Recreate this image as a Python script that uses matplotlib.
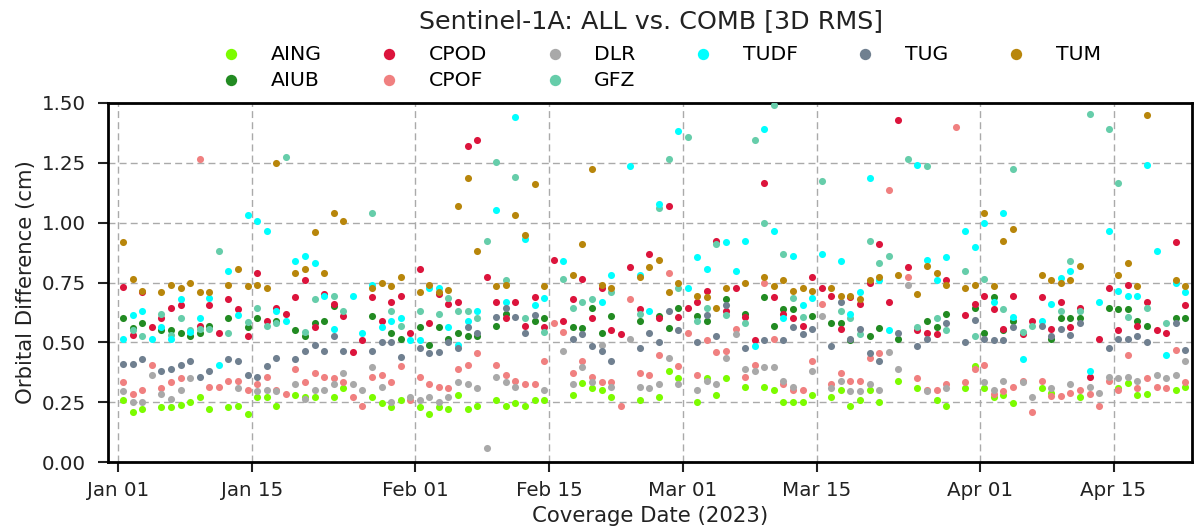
import numpy as np
import pandas as pd
import matplotlib
matplotlib.use('Agg')
import matplotlib.pyplot as plt
import matplotlib.dates as mdates

N = None

# daily values, 2023-01-01 .. 2023-04-22 (112 days), None = no solution
days = pd.date_range('2023-01-01', periods=112, freq='D') + pd.Timedelta(hours=12)

AING = [0.26, 0.21, 0.22, N, 0.23, 0.23, 0.24, 0.25, 0.27, 0.22, N, 0.23, 0.235, 0.20,
        0.27, 0.27, 0.235, N, 0.28, 0.27, 0.27, N, 0.27, 0.31, N, N, 0.27, 0.245,
        0.23, 0.26, N, 0.23, 0.20, 0.23, 0.22, 0.28, 0.22, 0.235, N, 0.26, 0.235, 0.245,
        0.235, 0.26, 0.26, N, N, 0.28, 0.33, 0.31, 0.30, 0.27, N, N, 0.26, N,
        0.27, 0.38, 0.35, N, 0.25, 0.35, 0.28, 0.35, N, 0.315, N, 0.315, 0.30, 0.25,
        0.25, 0.25, 0.28, N, 0.27, 0.30, 0.235, 0.26, 0.30, 0.25, N, 0.34, N, 0.31,
        N, 0.26, 0.235, N, 0.31, 0.40, 0.31, 0.27, 0.28, 0.245, N, N, 0.31, 0.29,
        N, N, 0.27, N, N, N, 0.31, 0.33, 0.28, 0.285, N, N, 0.30, 0.315]
AIUB = [0.60, 0.56, 0.58, N, 0.55, 0.55, 0.54, 0.525, 0.54, 0.57, N, 0.60, N, 0.565,
        0.60, N, 0.59, N, 0.55, 0.525, 0.58, 0.59, 0.65, N, N, N, 0.61, N,
        0.54, 0.515, N, 0.565, 0.49, 0.565, 0.515, 0.54, 0.525, 0.525, N, 0.57, 0.62, N,
        N, 0.59, 0.60, N, N, 0.565, 0.56, 0.645, 0.54, 0.61, N, N, 0.59, N,
        0.61, 0.56, 0.645, N, 0.61, 0.59, N, 0.68, N, 0.62, N, 0.69, 0.57, 0.64,
        0.64, N, 0.61, N, 0.58, 0.58, 0.51, N, 0.525, 0.56, N, 0.515, N, N,
        0.59, 0.565, 0.62, N, N, 0.645, 0.54, 0.69, 0.55, 0.59, N, N, N, 0.515,
        0.60, 0.60, 0.60, N, N, 0.645, 0.64, 0.64, 0.59, 0.57, N, N, 0.60, 0.60]
CPOD = [0.73, 0.53, 0.71, 0.565, 0.60, 0.645, 0.655, N, 0.57, 0.655, 0.54, 0.68, 0.64, 0.525,
        0.79, 0.59, 0.645, 0.62, 0.69, 0.76, 0.565, 0.70, 0.66, 0.61, 0.46, 0.51, 0.69, 0.59,
        0.67, 0.695, 0.54, 0.805, 0.58, 0.70, 0.66, 0.67, 1.32, 1.345, 0.775, 0.67, 0.60, 0.67,
        0.57, 0.69, 0.565, 0.845, 0.59, 0.68, 0.765, 0.60, 0.725, 0.55, 0.535, 0.815, 0.64, 0.87,
        0.60, 1.07, 0.605, 0.645, 0.67, 0.715, 0.925, 0.63, 0.725, 0.605, 0.51, 1.165, 0.69, 0.62,
        0.60, 0.57, 0.775, 0.725, 0.695, 0.555, 0.69, 0.66, 0.75, 0.91, 0.67, 1.43, 0.815, 0.55,
        0.54, 0.535, 0.76, N, 0.615, 0.66, 0.695, 0.64, 0.555, 0.695, 0.535, 0.59, 0.69, 0.555,
        0.67, 0.565, 0.645, 0.355, 0.515, 0.725, 0.55, 0.74, 0.57, 0.67, 0.55, 0.54, 0.92, 0.655]
CPOF = [0.335, 0.285, 0.30, 0.405, 0.31, 0.335, 0.35, N, 1.265, 0.315, 0.315, 0.34, 0.34, 0.30,
        0.325, 0.355, 0.30, 0.285, 0.39, 0.335, 0.37, 0.355, 0.35, 0.335, 0.27, 0.235, 0.355, 0.365,
        0.335, 0.40, 0.26, 0.355, 0.325, 0.315, 0.31, 0.39, 0.405, 0.455, N, 0.405, 0.365, 0.34,
        0.325, 0.325, 0.42, 0.58, 0.545, 0.37, 0.42, 0.355, 0.335, 0.335, 0.235, 0.68, 0.37, 0.365,
        0.445, 0.79, 0.40, 0.54, 0.365, 0.51, 0.46, 0.465, 0.555, 0.355, 0.405, 0.75, 0.515, 0.325,
        0.30, 0.30, 0.42, 0.66, 0.325, 0.37, 0.34, 0.34, 0.435, 0.455, 1.135, N, 0.775, 0.35,
        0.30, 0.30, 0.325, 1.40, 0.335, 0.39, 0.405, 0.285, 0.295, 0.315, 0.34, 0.21, 0.34, 0.275,
        0.275, 0.29, 0.30, 0.285, 0.235, 0.34, 0.30, 0.445, 0.31, 0.35, 0.315, 0.31, 0.47, 0.335]
DLR = [0.295, 0.25, 0.25, 0.365, 0.285, 0.265, 0.30, 0.35, N, N, N, N, 0.31, N,
       0.295, 0.30, 0.295, N, 0.325, 0.265, 0.30, 0.30, 0.325, 0.37, 0.325, 0.30, 0.395, 0.315,
       0.25, N, 0.27, 0.26, 0.27, 0.25, 0.27, 0.335, 0.325, 0.31, 0.06, 0.355, 0.335, 0.315,
       N, N, 0.30, N, 0.465, 0.325, 0.395, 0.335, 0.49, 0.315, N, 0.515, 0.315, 0.31,
       0.325, 0.435, 0.325, N, 0.30, 0.34, 0.325, 0.435, 0.535, 0.39, 0.38, 0.395, 0.395, 0.34,
       0.315, N, 0.38, 0.61, 0.31, 0.34, 0.295, 0.295, 0.325, 0.30, 0.46, 0.39, 0.74, N,
       0.295, N, 0.31, N, N, N, 0.335, 0.30, 0.34, N, 0.335, 0.27, N, 0.31,
       N, 0.325, N, 0.315, 0.29, 0.355, 0.35, 0.355, 0.34, N, 0.365, 0.35, 0.365, 0.42]
GFZ = [N, 0.55, 0.525, N, 0.62, 0.53, 0.60, 0.55, 0.555, 0.555, 0.88, 0.54, N, 0.585,
       0.645, 0.57, 0.58, 1.275, N, 0.545, 0.68, N, 0.695, 0.63, N, N, 1.04, N,
       0.63, 0.57, N, 0.63, N, 0.62, 0.685, 0.63, 0.63, 0.60, 0.925, 1.255, 0.76, 1.19,
       0.60, N, 0.545, N, 0.765, 0.645, 0.67, 0.68, N, 0.71, N, N, 0.62, N,
       1.063, 1.265, 0.725, 1.36, 0.59, 0.645, 0.91, 0.615, N, 0.58, 1.345, 1.00, 1.49, 0.87,
       0.685, 0.605, N, 1.175, N, 0.63, 0.60, 0.535, 0.925, 0.83, 0.86, N, 1.265, 0.565,
       1.235, 0.60, 0.55, N, 0.80, 0.525, 0.765, N, 0.64, 1.225, 0.545, 0.57, N, N,
       0.63, 0.84, 0.63, 1.455, N, 1.39, 1.165, 0.605, N, 0.645, N, 0.58, N, N]
TUDF = [0.515, 0.615, 0.63, 0.515, 0.565, 0.515, 0.68, 0.545, 0.60, 0.685, 0.405, 0.80, 0.615, 1.03,
        1.005, 0.965, 0.63, 0.59, 0.84, 0.86, 0.83, 0.695, 0.555, N, 0.695, 0.54, 0.74, 0.565,
        0.59, 0.60, 0.51, 0.51, 0.725, 0.725, 0.565, 0.49, 0.59, 0.63, N, 1.055, 0.67, 1.44,
        0.93, 0.655, 0.685, N, 0.84, N, N, N, 0.67, 0.78, N, 1.235, 0.78, 0.63,
        1.08, N, 1.385, 0.725, 0.855, 0.805, N, 0.92, 0.80, 0.925, 0.485, 1.39, 0.965, 0.60,
        0.86, 0.655, 0.685, 0.87, N, 0.84, 0.62, 0.71, 1.185, 0.76, 0.55, N, N, 1.24,
        0.845, 0.76, 0.855, N, 0.965, 0.90, 1.00, 0.67, 1.04, 0.605, 0.43, N, 0.59, 0.66,
        0.77, 0.80, N, 0.38, 0.67, 0.965, 0.715, 0.695, 0.695, 1.24, 0.88, 0.445, 0.75, 0.71]
TUG = [0.41, 0.41, 0.43, N, 0.38, 0.39, 0.405, 0.42, 0.355, 0.38, N, 0.43, 0.42, 0.365,
       0.355, 0.40, 0.435, N, 0.43, 0.465, 0.49, 0.465, 0.525, 0.465, N, N, 0.465, 0.50,
       0.50, 0.44, N, 0.475, 0.455, 0.46, 0.50, 0.475, 0.565, 0.54, N, 0.605, 0.645, 0.605,
       0.54, 0.615, N, N, N, 0.515, 0.535, 0.485, 0.465, 0.42, N, N, 0.475, 0.54,
       0.50, 0.63, 0.55, N, 0.50, 0.615, 0.525, 0.655, N, 0.475, N, 0.51, N, 0.51,
       0.565, 0.535, 0.555, N, 0.485, 0.67, 0.515, 0.555, 0.455, 0.42, N, 0.54, N, 0.485,
       0.515, N, 0.58, N, 0.50, 0.595, 0.515, 0.51, 0.51, 0.565, N, N, 0.57, 0.525,
       0.555, 0.53, 0.58, N, N, 0.475, 0.515, 0.515, 0.525, 0.50, N, N, 0.58, 0.47]
TUM = [0.92, 0.765, 0.715, N, 0.71, 0.74, 0.725, 0.75, 0.71, 0.71, N, 0.74, 0.805, 0.735,
       0.74, 0.725, 1.25, N, 0.79, 0.805, 0.96, 0.79, 1.04, 1.005, N, N, 0.725, 0.75,
       0.735, 0.775, N, 0.71, 0.74, 0.71, 0.72, 1.07, 1.185, 0.88, N, 0.735, 0.74, 1.03,
       0.95, 1.16, 0.735, N, N, 0.78, 0.91, 1.225, 0.74, 0.725, N, N, 0.775, 0.815,
       0.845, 0.71, 0.75, N, 0.695, 0.69, 0.645, 0.725, N, 0.75, N, 0.775, 0.735, 0.76,
       0.715, 0.725, 0.715, N, 0.725, 0.695, 0.695, 0.68, 0.76, 0.775, N, 0.78, N, 0.70,
       0.82, 0.79, 0.74, N, 0.725, 0.74, 1.04, 0.735, 0.925, 0.975, N, N, 0.78, 0.76,
       0.75, 0.76, 0.82, N, N, N, 0.78, 0.83, 0.735, 1.45, N, N, 0.76, 0.735]

series = [('AING', AING, 'lawngreen'), ('AIUB', AIUB, 'forestgreen'),
          ('CPOD', CPOD, 'crimson'), ('CPOF', CPOF, 'lightcoral'),
          ('DLR', DLR, 'darkgray'), ('GFZ', GFZ, 'mediumaquamarine'),
          ('TUDF', TUDF, 'cyan'), ('TUG', TUG, 'slategray'),
          ('TUM', TUM, 'darkgoldenrod')]

fig = plt.figure(figsize=(11.95, 5.32), dpi=100)
ax = fig.add_axes([108 / 1195, 70 / 532, 1084 / 1195, 359 / 532])

for name, vals, col in series:
    y = np.array(vals, dtype=float)
    ax.scatter(days, y, s=26, color=col, linewidths=0, label=name, zorder=3)

ax.set_ylim(0, 1.5)
ax.set_yticks(np.arange(0, 1.51, 0.25))
ax.yaxis.set_major_formatter(plt.FormatStrFormatter('%.2f'))
ax.set_xlim(pd.Timestamp('2023-01-01') - pd.Timedelta(hours=26),
            pd.Timestamp('2023-01-01') + pd.Timedelta(days=112.2))
ticks = pd.to_datetime(['2023-01-01', '2023-01-15', '2023-02-01', '2023-02-15',
                        '2023-03-01', '2023-03-15', '2023-04-01', '2023-04-15'])
ax.set_xticks(ticks)
ax.xaxis.set_major_formatter(mdates.DateFormatter('%b %d'))

ax.grid(True, linestyle='--', color='#aaaaaa', linewidth=1.0, dashes=(5, 3))
ax.set_axisbelow(True)
for sp in ax.spines.values():
    sp.set_linewidth(2)
ax.tick_params(labelsize=14.3, length=7, width=1.5, pad=7, colors='#222222')
ax.tick_params(axis='y', pad=9)

ax.set_xlabel('Coverage Date (2023)', fontsize=15.3, color='#222222', labelpad=4)
ax.set_ylabel('Orbital Difference (cm)', fontsize=15.3, color='#222222', labelpad=4)

fig.text(0.545, 1 - 21 / 532, 'Sentinel-1A: ALL vs. COMB [3D RMS]',
         fontsize=18.3, ha='center', va='center', color='#222222')
ax.legend(loc='center', bbox_to_anchor=(0.505, 1.10), ncol=6, frameon=False,
          fontsize=14.7, markerscale=1.6, handletextpad=0.95, columnspacing=2.3,
          labelspacing=0.35, borderaxespad=0)

fig.savefig('out.png', dpi=100)
